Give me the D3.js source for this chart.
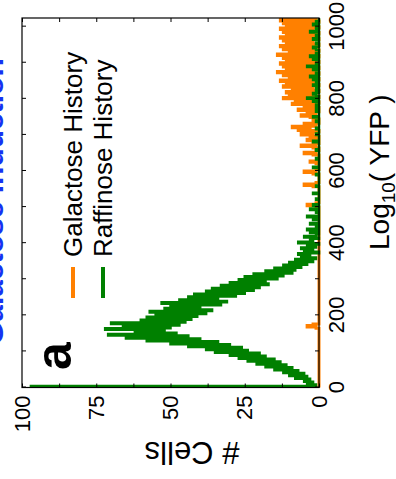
<!DOCTYPE html>
<html>
<head>
<meta charset="utf-8">
<script src="https://cdn.jsdelivr.net/npm/d3@7"></script>
<style>
  html, body { margin: 0; padding: 0; background: #fff; }
  svg { display: block; }
  text { font-family: "Liberation Sans", Arial, sans-serif; }
</style>
</head>
<body>
<div id="chart"></div>
<script>
// YFP histograms: bin starts every 4 units from 0 to 1020, counts per bin
const binWidth = 4;
const binStarts = d3.range(0, 1024, binWidth);

// Cells grown with a galactose history
const galactoseCounts = [
  0,0,0,0,0,0,0,0,0,0,0,0,0,0,0,0,
  0,0,0,0,0,0,0,0,0,0,0,0,0,0,0,0,
  0,0,0,0,0,0,0,0,0,1,4,2,0,0,0,0,
  0,0,0,0,0,0,0,0,0,0,0,0,0,0,0,0,
  0,0,0,0,0,0,0,0,0,0,0,0,0,0,0,0,
  0,0,0,0,0,0,0,0,0,0,0,0,0,0,0,0,
  0,0,0,0,0,0,0,0,0,0,0,0,0,0,0,0,
  0,0,0,0,0,0,0,0,0,0,0,0,0,1,4,1,
  0,0,0,0,0,0,0,0,0,0,0,2,5,1,0,0,
  0,0,0,0,2,5,1,0,0,0,0,1,3,0,0,0,
  0,2,5,1,0,0,2,6,1,0,2,4,0,0,3,6,
  2,0,7,3,9,1,5,0,2,0,1,3,6,1,4,0,
  7,0,5,1,9,0,8,2,12,0,10,1,11,0,9,2,
  12,0,11,1,13,0,10,2,12,0,14,1,11,0,12,1,
  13,0,11,2,12,0,14,1,10,0,12,1,13,0,11,2,
  12,0,13,1,11,0,12,2,13,0,11,1,12,0,13,1
];

// Cells grown with a raffinose history
const raffinoseCounts = [
  97,1,4,2,5,3,8,4,10,5,12,7,15,9,18,11,
  21,13,24,15,27,18,30,20,35,24,38,26,44,30,50,34,
  58,40,65,44,71,48,62,52,72,50,66,47,70,45,60,43,
  58,41,55,38,57,36,52,40,50,33,53,31,47,34,44,28,
  42,25,38,22,36,20,33,17,30,18,27,14,25,12,22,9,
  18,8,15,6,12,4,10,2,8,1,6,3,7,0,5,2,
  6,1,4,0,7,2,3,0,5,1,0,3,0,4,0,1,
  0,3,0,0,2,0,4,0,0,1,0,3,0,0,2,0,
  0,0,1,0,0,0,2,0,0,0,0,1,0,0,0,0,
  0,0,0,1,0,0,0,0,2,0,0,0,0,0,1,0,
  0,0,0,0,1,0,0,0,0,0,2,0,0,0,0,1,
  0,0,0,1,0,0,0,0,1,0,0,2,0,0,0,1,
  0,1,0,1,0,0,2,0,4,0,1,2,0,1,0,1,
  0,2,0,1,0,2,0,3,0,1,0,0,2,0,4,0,
  1,0,0,2,0,3,0,1,0,0,1,2,0,0,1,0,
  0,2,0,1,0,0,3,0,1,0,0,2,0,1,0,0
];

const seriesNames = ["Galactose History", "Raffinose History"];
const seriesColors = ["#ff8000", "#008000"];
const yfpTicks = d3.range(0, 1001, 100);
const yfpLabels = [0, 200, 400, 600, 800, 1000];
const cellTicks = d3.range(0, 100.1, 12.5);
const cellLabels = [0, 25, 50, 75, 100];

const W = 396, H = 479;
const svg = d3.select("#chart").append("svg")
  .attr("width", W).attr("height", H);

// The figure is laid out in a landscape frame and turned a quarter turn
const frame = svg.append("g").attr("transform", `translate(0,${H}) rotate(-90)`);

const x = d3.scaleLinear().domain([0, 1024]).range([91.5, 461]);
const y = d3.scaleLinear().domain([0, 100]).range([319, 22]);

// Page heading running along the edge
frame.append("text")
  .attr("x", 134).attr("y", 3)
  .attr("font-size", 30).attr("font-weight", "bold")
  .attr("fill", "#1533f2")
  .text("Galactose Induction");

// Histogram traces drawn as steps
const line = d3.line()
  .x(d => x(d[0])).y(d => y(d[1]))
  .curve(d3.curveStepAfter);

function stepPoints(counts) {
  const pts = binStarts.map((b, i) => [b, counts[i]]);
  pts.push([1024, counts[counts.length - 1]]);
  return pts;
}

frame.append("path")
  .attr("d", line(stepPoints(galactoseCounts)))
  .attr("fill", "none").attr("stroke", seriesColors[0])
  .attr("stroke-width", 3).attr("stroke-linejoin", "miter");

frame.append("path")
  .attr("d", line(stepPoints(raffinoseCounts)))
  .attr("fill", "none").attr("stroke", seriesColors[1])
  .attr("stroke-width", 2.5).attr("stroke-linejoin", "miter");

// Axes with inward ticks
const fmtX = d => yfpLabels.includes(d) ? String(d) : "";
const fmtY = d => cellLabels.includes(d) ? String(d) : "";

const axB = frame.append("g").attr("transform", `translate(0,${y(0)})`)
  .call(d3.axisBottom(x).tickValues(yfpTicks).tickFormat(fmtX)
    .tickSizeInner(-4).tickSizeOuter(0).tickPadding(9));
const axL = frame.append("g").attr("transform", `translate(${x(0)},0)`)
  .call(d3.axisLeft(y).tickValues(cellTicks).tickFormat(fmtY)
    .tickSizeInner(-4).tickSizeOuter(0).tickPadding(8));
const axT = frame.append("g").attr("transform", `translate(0,${y(100)})`)
  .call(d3.axisTop(x).tickValues(yfpTicks).tickFormat("")
    .tickSizeInner(-4).tickSizeOuter(0));
const axR = frame.append("g").attr("transform", `translate(${x(1024)},0)`)
  .call(d3.axisRight(y).tickValues(cellTicks).tickFormat("")
    .tickSizeInner(-4).tickSizeOuter(0));

[axB, axL, axT, axR].forEach(a => {
  a.select(".domain").remove();
  a.selectAll(".tick line").attr("stroke", "#000").attr("stroke-width", 1);
  a.selectAll(".tick text")
    .attr("font-size", 22).attr("fill", "#000")
    .attr("font-family", "'Liberation Sans', Arial, sans-serif");
});

frame.append("rect")
  .attr("x", x(0)).attr("y", y(100))
  .attr("width", x(1024) - x(0)).attr("height", y(0) - y(100))
  .attr("fill", "none").attr("stroke", "#000").attr("stroke-width", 1.2);

// Axis titles
const xt = frame.append("text")
  .attr("x", 229).attr("y", 389)
  .attr("font-size", 28).attr("fill", "#000");
xt.append("tspan").text("Log");
xt.append("tspan").attr("font-size", 19).attr("dy", 6).text("10");
xt.append("tspan").attr("dy", -6).text("( YFP )");

frame.append("text")
  .attr("transform", "translate(37,192) rotate(-90)")
  .attr("text-anchor", "middle")
  .attr("font-size", 31).attr("fill", "#000")
  .text("# Cells");

// Panel letter
frame.append("text")
  .attr("x", 109).attr("y", 71)
  .attr("font-size", 50).attr("font-weight", "bold")
  .text("a");

// Legend
const legendRows = [82, 112];
seriesNames.forEach((name, i) => {
  frame.append("line")
    .attr("x1", 181).attr("x2", 212)
    .attr("y1", legendRows[i] - 9).attr("y2", legendRows[i] - 9)
    .attr("stroke", seriesColors[i]).attr("stroke-width", 4);
  frame.append("text")
    .attr("x", 222).attr("y", legendRows[i])
    .attr("font-size", 26).attr("fill", "#000")
    .text(name);
});
</script>
</body>
</html>
